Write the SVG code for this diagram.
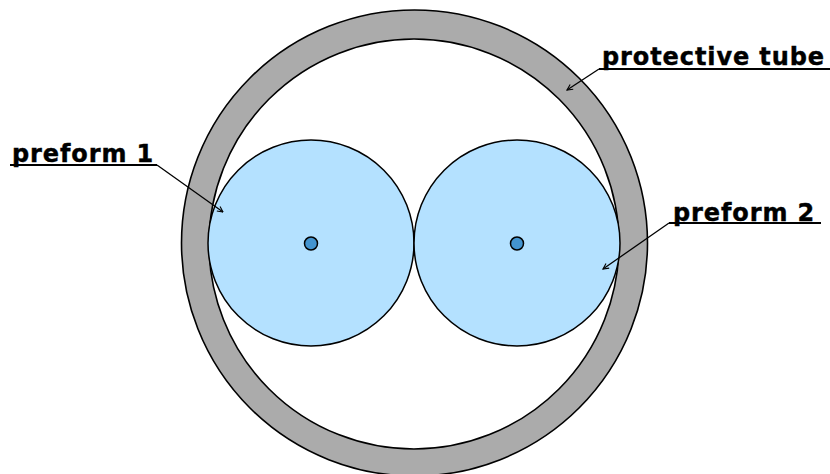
<svg xmlns="http://www.w3.org/2000/svg" width="830" height="474" viewBox="0 0 830 474">
<defs>
<style>
.lbl{font-family:"DejaVu Sans","Verdana",sans-serif;font-weight:bold;font-size:24px;letter-spacing:0.9px;fill:#000;stroke:#000;stroke-width:0.4}
.ul{stroke:#000;stroke-width:2;fill:none}
.lead{stroke:#000;stroke-width:1.3;fill:none;marker-end:url(#arr)}
.pf{fill:#b4e1ff;stroke:#000;stroke-width:1.5}
.core{fill:#4394d0;stroke:#000;stroke-width:1.5}
</style>
<marker id="arr" viewBox="0 0 10 10" refX="9" refY="5" markerWidth="7" markerHeight="7" markerUnits="userSpaceOnUse" orient="auto">
<path d="M1,1 L9,5 L1,9" fill="none" stroke="#000" stroke-width="1.6"/>
</marker>
</defs>
<rect width="830" height="474" fill="#fff"/>
<g id="tube">
<circle cx="414.5" cy="243" r="233" fill="#ababab" stroke="#000" stroke-width="1.6"/>
<circle cx="414" cy="244" r="205" fill="#fff" stroke="#000" stroke-width="1.6"/>
</g>
<g id="preform1">
<circle class="pf" cx="311" cy="243" r="103"/>
<circle class="core" cx="311" cy="243.5" r="6.5"/>
</g>
<g id="preform2">
<circle class="pf" cx="517" cy="243" r="103"/>
<circle class="core" cx="517" cy="243.5" r="6.5"/>
</g>
<g id="label-preform1">
<text class="lbl" x="12" y="162">preform 1</text>
</g>
<g id="label-tube">
<text class="lbl" x="602" y="65">protective tube</text>
</g>
<g id="label-preform2">
<text class="lbl" x="673" y="221">preform 2</text>
</g>
<g id="connectors">
<line class="ul" x1="10" y1="165" x2="157" y2="165"/>
<line class="lead" x1="157" y1="165" x2="223" y2="212"/>
<line class="ul" x1="599" y1="69" x2="830" y2="69"/>
<line class="lead" x1="599" y1="69" x2="567" y2="90"/>
<line class="ul" x1="669" y1="223" x2="821" y2="223"/>
<line class="lead" x1="669" y1="223" x2="603" y2="269"/>
</g>
</svg>
